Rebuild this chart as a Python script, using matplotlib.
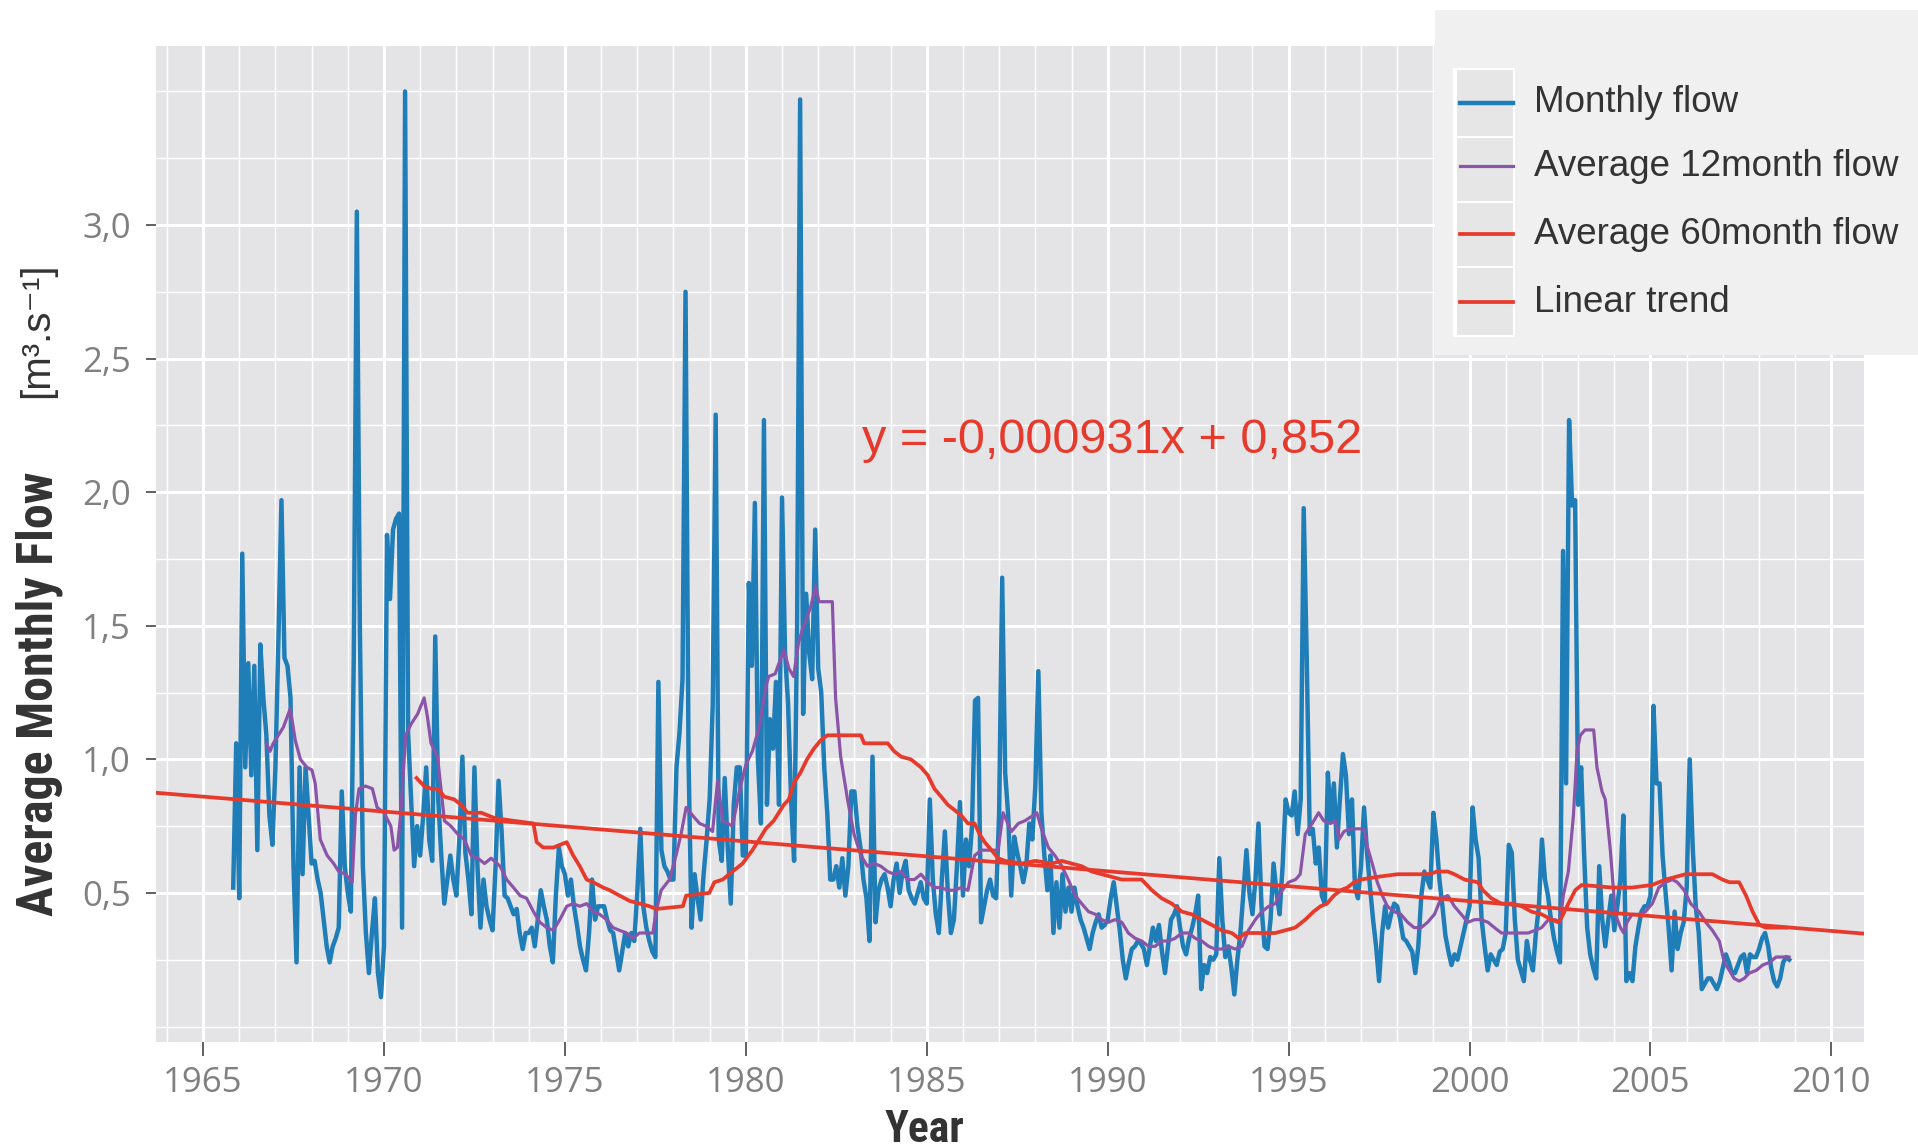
import numpy as np
import matplotlib
matplotlib.use("Agg")
import matplotlib.pyplot as plt
from matplotlib.patches import Rectangle
from matplotlib.lines import Line2D

# ---------------- data ----------------
start_year = 1965 + 10 / 12          # first monthly value: Nov 1965

flow_1965_1969 = [
    0.52, 1.06,
    0.48, 1.77, 0.97, 1.36, 0.94, 1.35, 0.66, 1.43, 1.23, 1.09, 0.79, 0.68,
    0.97, 1.45, 1.97, 1.38, 1.35, 1.23, 0.60, 0.24, 0.97, 0.57, 0.97, 0.79,
    0.61, 0.62, 0.55, 0.50, 0.40, 0.30, 0.24, 0.30, 0.33, 0.37, 0.88, 0.60,
    0.50, 0.43, 1.40, 3.05, 1.50, 0.60, 0.35, 0.20, 0.35, 0.48, 0.20, 0.11,
]
flow_1970s = [
    0.30, 1.84, 1.60, 1.86, 1.90, 1.92, 0.37, 3.50, 1.10, 0.85, 0.60, 0.75,
    0.64, 0.79, 0.97, 0.70, 0.62, 1.46, 0.85, 0.64, 0.46, 0.55, 0.64, 0.55,
    0.49, 0.70, 1.01, 0.65, 0.55, 0.42, 0.97, 0.60, 0.37, 0.55, 0.45, 0.40,
    0.36, 0.60, 0.92, 0.73, 0.49, 0.48, 0.45, 0.42, 0.44, 0.35, 0.29, 0.35,
    0.35, 0.37, 0.30, 0.40, 0.51, 0.45, 0.40, 0.30, 0.24, 0.49, 0.67, 0.60,
    0.57, 0.49, 0.55, 0.45, 0.38, 0.30, 0.25, 0.21, 0.35, 0.55, 0.40, 0.45,
    0.45, 0.45, 0.40, 0.36, 0.35, 0.28, 0.21, 0.28, 0.35, 0.30, 0.35, 0.32,
    0.50, 0.74, 0.45, 0.37, 0.32, 0.28, 0.26, 1.29, 0.66, 0.60, 0.58, 0.55,
    0.55, 0.97, 1.10, 1.30, 2.75, 1.00, 0.37, 0.57, 0.48, 0.40, 0.57, 0.70,
    0.85, 1.20, 2.29, 0.70, 0.62, 0.93, 0.67, 0.46, 0.83, 0.97, 0.97, 0.64,
]
flow_1980s = [
    0.64, 1.66, 1.35, 1.96, 1.00, 0.76, 2.27, 0.83, 1.15, 1.04, 1.29, 0.83,
    1.98, 1.40, 1.21, 0.85, 0.62, 1.50, 3.47, 1.17, 1.62, 1.40, 1.30, 1.86,
    1.34, 1.25, 0.97, 0.80, 0.55, 0.55, 0.60, 0.52, 0.63, 0.49, 0.60, 0.88,
    0.88, 0.75, 0.67, 0.55, 0.48, 0.32, 1.01, 0.39, 0.51, 0.55, 0.57, 0.52,
    0.45, 0.55, 0.61, 0.50, 0.58, 0.62, 0.51, 0.48, 0.46, 0.50, 0.54, 0.48,
    0.46, 0.85, 0.55, 0.42, 0.35, 0.55, 0.73, 0.50, 0.35, 0.40, 0.60, 0.84,
    0.49, 0.70, 0.60, 0.75, 1.22, 1.23, 0.39, 0.45, 0.51, 0.55, 0.49, 0.48,
    0.80, 1.68, 0.95, 0.79, 0.49, 0.71, 0.65, 0.60, 0.54, 0.60, 0.76, 0.70,
    0.90, 1.33, 0.80, 0.64, 0.51, 0.64, 0.35, 0.54, 0.37, 0.57, 0.43, 0.52,
    0.43, 0.52, 0.45, 0.40, 0.37, 0.33, 0.29, 0.35, 0.39, 0.42, 0.37, 0.38,
]
flow_1990s = [
    0.40, 0.48, 0.54, 0.45, 0.36, 0.25, 0.18, 0.24, 0.29, 0.30, 0.32, 0.31,
    0.29, 0.23, 0.30, 0.37, 0.32, 0.38, 0.28, 0.20, 0.30, 0.40, 0.42, 0.45,
    0.37, 0.30, 0.27, 0.33, 0.37, 0.42, 0.49, 0.14, 0.23, 0.20, 0.26, 0.25,
    0.27, 0.63, 0.40, 0.26, 0.30, 0.22, 0.12, 0.25, 0.35, 0.50, 0.66, 0.50,
    0.42, 0.55, 0.76, 0.45, 0.30, 0.29, 0.40, 0.61, 0.50, 0.42, 0.60, 0.85,
    0.80, 0.79, 0.88, 0.72, 0.85, 1.94, 1.38, 0.72, 0.74, 0.61, 0.67, 0.49,
    0.46, 0.95, 0.77, 0.91, 0.67, 0.85, 1.02, 0.94, 0.72, 0.85, 0.52, 0.48,
    0.60, 0.82, 0.65, 0.52, 0.40, 0.30, 0.17, 0.35, 0.45, 0.37, 0.42, 0.46,
    0.45, 0.40, 0.33, 0.32, 0.30, 0.28, 0.20, 0.30, 0.49, 0.58, 0.55, 0.52,
    0.80, 0.70, 0.55, 0.45, 0.34, 0.28, 0.23, 0.27, 0.25, 0.30, 0.35, 0.40,
]
flow_2000s = [
    0.45, 0.82, 0.70, 0.63, 0.40, 0.30, 0.21, 0.27, 0.25, 0.23, 0.28, 0.29,
    0.35, 0.68, 0.65, 0.40, 0.25, 0.21, 0.17, 0.32, 0.25, 0.21, 0.35, 0.45,
    0.70, 0.55, 0.49, 0.40, 0.33, 0.28, 0.24, 1.78, 0.91, 2.27, 1.95, 1.97,
    0.83, 0.97, 0.64, 0.37, 0.27, 0.22, 0.18, 0.60, 0.40, 0.30, 0.40, 0.49,
    0.36, 0.45, 0.55, 0.79, 0.17, 0.20, 0.17, 0.30, 0.37, 0.43, 0.45, 0.45,
    0.49, 1.20, 0.91, 0.91, 0.64, 0.50, 0.37, 0.21, 0.43, 0.29, 0.35, 0.39,
    0.52, 1.00, 0.67, 0.45, 0.35, 0.14, 0.16, 0.18, 0.18, 0.16, 0.14, 0.17,
    0.22, 0.27, 0.24, 0.20, 0.20, 0.23, 0.26, 0.27, 0.20, 0.27, 0.26, 0.26,
    0.29, 0.33, 0.35, 0.30, 0.22, 0.17, 0.15, 0.18, 0.24, 0.26, 0.25,
]

avg12_years = [
    1966.75, 1966.85, 1966.94, 1967.08, 1967.22, 1967.41, 1967.55, 1967.69, 1967.87, 1968.01,
    1968.10, 1968.24, 1968.43, 1968.61, 1968.75, 1968.94, 1969.12, 1969.21, 1969.31, 1969.49,
    1969.68, 1969.81, 1970.00, 1970.19, 1970.28, 1970.37, 1970.46, 1970.60, 1970.74, 1970.93,
    1971.11, 1971.20, 1971.30, 1971.48, 1971.67, 1971.85, 1972.04, 1972.22, 1972.41, 1972.59,
    1972.78, 1972.96, 1973.21, 1973.39, 1973.58, 1973.76, 1973.94, 1974.13, 1974.31, 1974.50,
    1974.68, 1974.86, 1975.05, 1975.23, 1975.41, 1975.60, 1975.78, 1975.96, 1976.15, 1976.33,
    1976.51, 1976.70, 1976.88, 1977.06, 1977.25, 1977.43, 1977.52, 1977.66, 1977.89, 1978.07,
    1978.21, 1978.35, 1978.53, 1978.72, 1978.90, 1979.08, 1979.22, 1979.36, 1979.50, 1979.63,
    1979.82, 1980.00, 1980.18, 1980.37, 1980.55, 1980.63, 1980.81, 1981.05, 1981.19, 1981.32,
    1981.46, 1981.60, 1981.79, 1981.93, 1982.02, 1982.39, 1982.48, 1982.62, 1982.81, 1982.99,
    1983.18, 1983.36, 1983.55, 1983.73, 1983.92, 1984.10, 1984.29, 1984.47, 1984.66, 1984.84,
    1985.03, 1985.21, 1985.40, 1985.58, 1985.77, 1985.95, 1986.14, 1986.32, 1986.51, 1986.69,
    1986.97, 1987.11, 1987.34, 1987.53, 1987.71, 1987.94, 1988.04, 1988.17, 1988.36, 1988.54,
    1988.73, 1988.91, 1989.10, 1989.28, 1989.47, 1989.66, 1989.83, 1990.02, 1990.20, 1990.39,
    1990.57, 1990.76, 1990.94, 1991.13, 1991.31, 1991.49, 1991.68, 1991.86, 1992.05, 1992.23,
    1992.42, 1992.60, 1992.79, 1992.97, 1993.15, 1993.34, 1993.52, 1993.71, 1993.89, 1994.08,
    1994.26, 1994.45, 1994.63, 1994.82, 1995.00, 1995.19, 1995.32, 1995.46, 1995.65, 1995.83,
    1995.97, 1996.16, 1996.30, 1996.39, 1996.53, 1996.71, 1997.08, 1997.18, 1997.31, 1997.45,
    1997.59, 1997.73, 1997.92, 1998.10, 1998.29, 1998.47, 1998.66, 1998.84, 1999.03, 1999.21,
    1999.40, 1999.58, 1999.77, 1999.95, 2000.14, 2000.32, 2000.51, 2000.69, 2000.88, 2001.06,
    2001.62, 2001.81, 2001.99, 2002.18, 2002.36, 2002.50, 2002.59, 2002.73, 2002.87, 2002.97,
    2003.06, 2003.19, 2003.43, 2003.52, 2003.66, 2003.75, 2003.89, 2004.03, 2004.17, 2004.26,
    2004.35, 2004.49, 2004.68, 2004.86, 2005.05, 2005.23, 2005.42, 2005.60, 2005.74, 2005.93,
    2006.11, 2006.34, 2006.53, 2006.71, 2006.90, 2007.04, 2007.18, 2007.31, 2007.45, 2007.59,
    2007.73, 2007.92, 2008.10, 2008.29, 2008.47, 2008.83,
]
avg12_values = [
    1.06, 1.03, 1.06, 1.09, 1.12, 1.19, 1.07, 1.00, 0.97, 0.96,
    0.91, 0.70, 0.64, 0.61, 0.58, 0.57, 0.54, 0.79, 0.89, 0.90,
    0.89, 0.82, 0.80, 0.75, 0.66, 0.67, 0.79, 1.09, 1.13, 1.17,
    1.23, 1.16, 1.06, 1.01, 0.77, 0.75, 0.72, 0.70, 0.64, 0.63,
    0.61, 0.63, 0.60, 0.55, 0.52, 0.49, 0.48, 0.43, 0.39, 0.37,
    0.36, 0.40, 0.45, 0.46, 0.45, 0.46, 0.43, 0.42, 0.40, 0.37,
    0.36, 0.35, 0.33, 0.35, 0.35, 0.35, 0.43, 0.51, 0.55, 0.64,
    0.72, 0.82, 0.79, 0.76, 0.75, 0.73, 0.92, 0.77, 0.76, 0.75,
    0.88, 0.98, 1.03, 1.12, 1.27, 1.31, 1.32, 1.41, 1.34, 1.31,
    1.44, 1.50, 1.57, 1.65, 1.59, 1.59, 1.23, 1.01, 0.85, 0.72,
    0.64, 0.60, 0.61, 0.60, 0.58, 0.57, 0.58, 0.55, 0.55, 0.57,
    0.54, 0.52, 0.52, 0.51, 0.51, 0.52, 0.51, 0.64, 0.66, 0.66,
    0.66, 0.80, 0.73, 0.76, 0.77, 0.79, 0.80, 0.74, 0.67, 0.64,
    0.60, 0.55, 0.49, 0.46, 0.43, 0.42, 0.40, 0.39, 0.40, 0.39,
    0.35, 0.33, 0.32, 0.30, 0.30, 0.32, 0.32, 0.33, 0.35, 0.35,
    0.33, 0.32, 0.30, 0.29, 0.29, 0.30, 0.29, 0.30, 0.36, 0.40,
    0.43, 0.45, 0.46, 0.51, 0.54, 0.55, 0.57, 0.72, 0.76, 0.80,
    0.77, 0.76, 0.77, 0.70, 0.73, 0.74, 0.74, 0.67, 0.61, 0.54,
    0.49, 0.45, 0.43, 0.42, 0.39, 0.37, 0.37, 0.39, 0.42, 0.48,
    0.49, 0.45, 0.42, 0.39, 0.40, 0.40, 0.39, 0.37, 0.35, 0.35,
    0.35, 0.36, 0.37, 0.40, 0.40, 0.39, 0.49, 0.58, 0.79, 1.03,
    1.09, 1.11, 1.11, 0.97, 0.88, 0.85, 0.66, 0.42, 0.37, 0.35,
    0.39, 0.42, 0.42, 0.43, 0.46, 0.52, 0.54, 0.55, 0.54, 0.51,
    0.46, 0.43, 0.39, 0.36, 0.32, 0.24, 0.21, 0.18, 0.17, 0.18,
    0.20, 0.21, 0.23, 0.24, 0.26, 0.26,
]

avg60_years = [
    1970.90, 1971.11, 1971.30, 1971.48, 1971.67, 1971.94, 1972.13, 1972.31, 1972.69, 1973.06,
    1973.58, 1974.13, 1974.22, 1974.40, 1974.68, 1975.05, 1975.23, 1975.41, 1975.60, 1975.78,
    1976.06, 1976.24, 1976.51, 1976.79, 1977.06, 1977.34, 1977.52, 1978.26, 1978.35, 1978.99,
    1979.13, 1979.36, 1979.63, 1979.91, 1980.18, 1980.37, 1980.55, 1980.77, 1980.91, 1981.05,
    1981.19, 1981.32, 1981.51, 1981.69, 1981.88, 1982.06, 1982.25, 1983.18, 1983.27, 1983.92,
    1984.10, 1984.29, 1984.56, 1984.84, 1985.03, 1985.21, 1985.40, 1985.58, 1985.77, 1985.95,
    1986.14, 1986.32, 1986.46, 1986.60, 1986.79, 1986.97, 1987.16, 1987.62, 1988.00, 1988.45,
    1988.73, 1989.00, 1989.28, 1989.56, 1989.83, 1990.11, 1990.39, 1990.94, 1991.22, 1991.49,
    1991.77, 1992.05, 1992.32, 1992.60, 1992.88, 1993.15, 1993.43, 1993.62, 1993.80, 1994.63,
    1994.91, 1995.18, 1995.46, 1995.69, 1995.88, 1996.06, 1996.25, 1996.44, 1996.62, 1996.81,
    1996.99, 1997.45, 1998.01, 1998.84, 1999.12, 1999.40, 1999.58, 1999.86, 2000.23, 2000.37,
    2000.60, 2000.88, 2001.16, 2001.44, 2001.71, 2001.99, 2002.27, 2002.45, 2002.55, 2002.73,
    2002.92, 2003.10, 2003.94, 2004.49, 2005.05, 2005.23, 2005.42, 2005.69, 2005.97, 2006.44,
    2006.71, 2006.99, 2007.18, 2007.45, 2007.64, 2007.82, 2008.01, 2008.19, 2008.75,
]
avg60_values = [
    0.93, 0.90, 0.89, 0.89, 0.86, 0.85, 0.83, 0.80, 0.80, 0.78,
    0.77, 0.76, 0.69, 0.67, 0.67, 0.69, 0.64, 0.60, 0.55, 0.54,
    0.52, 0.51, 0.49, 0.47, 0.46, 0.45, 0.44, 0.45, 0.49, 0.50,
    0.54, 0.55, 0.58, 0.61, 0.66, 0.70, 0.74, 0.77, 0.80, 0.83,
    0.85, 0.91, 0.95, 1.00, 1.04, 1.07, 1.09, 1.09, 1.06, 1.06,
    1.03, 1.01, 1.00, 0.97, 0.94, 0.89, 0.86, 0.83, 0.81, 0.79,
    0.76, 0.76, 0.72, 0.69, 0.66, 0.63, 0.62, 0.61, 0.62, 0.61,
    0.62, 0.61, 0.60, 0.58, 0.57, 0.56, 0.55, 0.55, 0.51, 0.48,
    0.46, 0.43, 0.42, 0.40, 0.38, 0.36, 0.35, 0.33, 0.35, 0.35,
    0.36, 0.37, 0.40, 0.43, 0.45, 0.46, 0.49, 0.51, 0.52, 0.54,
    0.55, 0.56, 0.57, 0.57, 0.58, 0.58, 0.57, 0.55, 0.54, 0.51,
    0.48, 0.46, 0.46, 0.45, 0.43, 0.42, 0.40, 0.39, 0.41, 0.46,
    0.51, 0.53, 0.52, 0.52, 0.53, 0.54, 0.55, 0.56, 0.57, 0.57,
    0.57, 0.55, 0.54, 0.54, 0.49, 0.43, 0.38, 0.37, 0.37,
]

trend_slope = -0.000931      # per month
trend_intercept = 0.852      # at month index 0 (one month before the first value)
equation_text = "y = -0,000931x + 0,852"

x_ticks = [1965, 1970, 1975, 1980, 1985, 1990, 1995, 2000, 2005, 2010]
x_tick_labels = ["1965", "1970", "1975", "1980", "1985", "1990", "1995", "2000", "2005", "2010"]
y_ticks = [0.5, 1.0, 1.5, 2.0, 2.5, 3.0]
y_tick_labels = ["0,5", "1,0", "1,5", "2,0", "2,5", "3,0"]
series_labels = ["Monthly flow", "Average 12month flow", "Average 60month flow", "Linear trend"]

# ---------------- styling ----------------
C_BLUE = "#1f7db8"
C_PURPLE = "#8a55a8"
C_RED = "#e63a2c"
PANEL = "#e4e4e7"
COND = ["Roboto Condensed", "Liberation Sans Narrow", "Roboto", "DejaVu Sans"]

monthly_flow = np.array(flow_1965_1969 + flow_1970s + flow_1980s + flow_1990s + flow_2000s)
months = start_year + np.arange(len(monthly_flow)) / 12.0

W, H = 1918, 1148
fig = plt.figure(figsize=(W / 100, H / 100), dpi=100)
fig.patch.set_facecolor("white")

ax_l, ax_r, ax_b, ax_t = 156, 1864, 1042, 46
ax = fig.add_axes([ax_l / W, 1 - ax_b / H, (ax_r - ax_l) / W, (ax_b - ax_t) / H])
ax.set_facecolor(PANEL)
for s in ax.spines.values():
    s.set_visible(False)

ax.set_xlim(1963.70, 2010.90)
ax.set_ylim(-0.058, 3.67)

# grid
for yv in np.arange(0.0, 3.51, 0.25):
    major = abs((yv / 0.5) - round(yv / 0.5)) < 1e-6 and 0.5 <= yv <= 3.0
    ax.axhline(yv, color="white", lw=2.2 if major else 1.0, zorder=0.5)
for xv in range(1964, 2011):
    major = xv % 5 == 0
    ax.axvline(xv, color="white", lw=2.2 if major else 1.0, zorder=0.5)

ax.plot(months, monthly_flow, color=C_BLUE, lw=3.2, zorder=2, solid_joinstyle="round")
ax.plot(avg12_years, avg12_values, color=C_PURPLE, lw=2.3, zorder=3)
ax.plot(avg60_years, avg60_values, color=C_RED, lw=2.7, zorder=4)
ax.axline((start_year - 1 / 12, trend_intercept), slope=trend_slope * 12,
          color=C_RED, lw=2.7, zorder=5)

ax.text(1983.2, 2.195, equation_text, color=C_RED, fontsize=35,
        family=["Liberation Sans", "DejaVu Sans"], ha="left", va="center", zorder=6)

ax.set_xticks(x_ticks)
ax.set_xticklabels(x_tick_labels)
ax.set_yticks(y_ticks)
ax.set_yticklabels(y_tick_labels)
ax.tick_params(axis="x", direction="out", length=10, width=1.3, color="#555555",
               pad=7, labelsize=25, labelcolor="#808080")
ax.tick_params(axis="y", direction="out", length=7, width=1.3, color="#555555",
               pad=11, labelsize=25, labelcolor="#808080")
for lab in ax.get_xticklabels() + ax.get_yticklabels():
    lab.set_family(["Open Sans", "DejaVu Sans"])

# axis titles
fig.text(925 / W, 1 - 1130 / H, "Year", ha="center", va="center", fontsize=31.5,
         fontweight="bold", color="#333333", family=COND)
fig.text(39 / W, 1 - 694 / H, "Average Monthly Flow", ha="center", va="center", rotation=90,
         fontsize=36, fontweight="bold", color="#333333", family=COND)
fig.text(37 / W, 1 - 330 / H, "[m³.s⁻¹]", ha="center", va="center", rotation=90,
         fontsize=29, color="#333333", family=["Liberation Sans", "DejaVu Sans"])

# legend box
lx0, lx1, ly0, ly1 = 1435, 1918, 10, 355
lax = fig.add_axes([lx0 / W, 1 - ly1 / H, (lx1 - lx0) / W, (ly1 - ly0) / H])
lax.set_facecolor("#f0f0f0")
lax.set_xlim(lx0, lx1)
lax.set_ylim(ly1, ly0)
lax.set_xticks([])
lax.set_yticks([])
for s in lax.spines.values():
    s.set_visible(False)

lax.add_patch(Rectangle((1453, 68), 62, 269, facecolor="white", edgecolor="none"))
row_y = [103, 166, 234, 302]
cells = [(70, 136), (138, 201), (203, 266), (268, 335)]
colors = [C_BLUE, C_PURPLE, C_RED, C_RED]
lws = [3.2, 2.3, 2.7, 2.7]
for (c0, c1), yy, col, lw, lab in zip(cells, row_y, colors, lws, series_labels):
    lax.add_patch(Rectangle((1457, c0), 56, c1 - c0, facecolor="#e6e6e6", edgecolor="none"))
    lax.add_line(Line2D([1460, 1513], [yy, yy], color=col, lw=lw))
    lax.text(1534, yy, lab, ha="left", va="center", fontsize=26.5, color="#333333",
             family=["Liberation Sans", "DejaVu Sans"])

fig.savefig("out.png", dpi=100, facecolor="white")
